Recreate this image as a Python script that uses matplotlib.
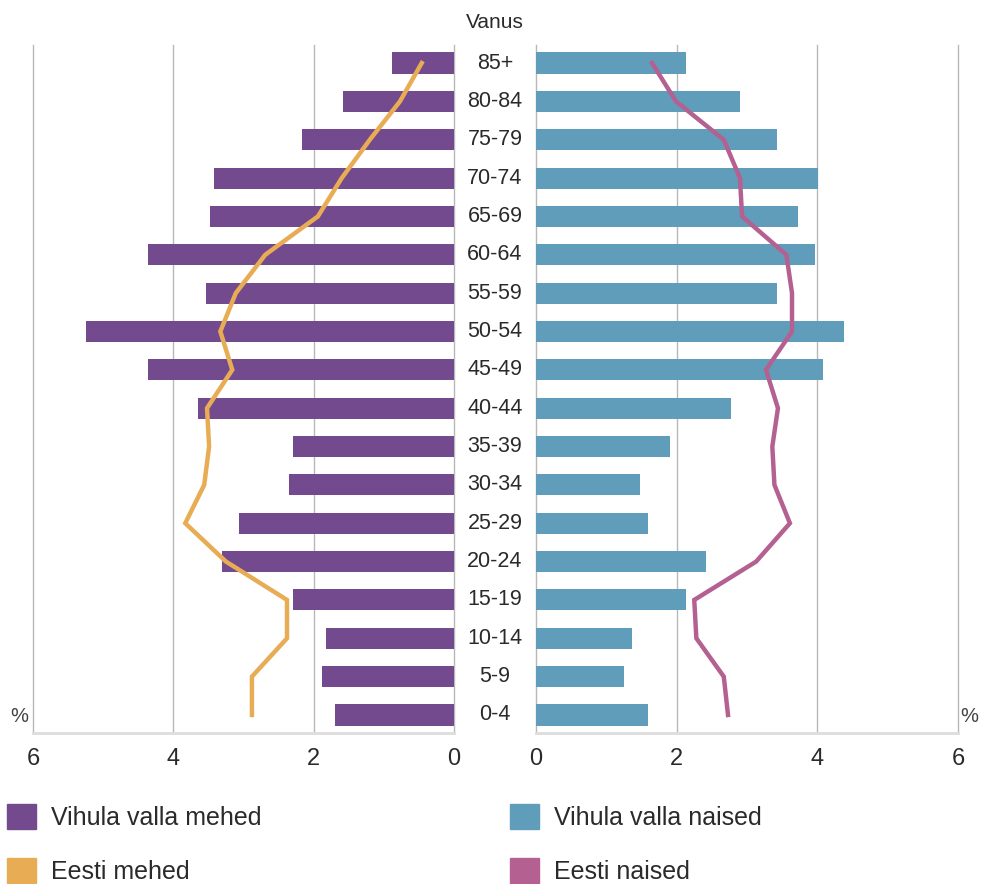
import matplotlib as mpl
mpl.use("Agg")
import matplotlib.pyplot as plt
from matplotlib.patches import Patch
from matplotlib.transforms import blended_transform_factory

plt.rcParams["font.family"] = ["Liberation Sans", "DejaVu Sans"]

# DATA (percent of population)
ages = ["0-4", "5-9", "10-14", "15-19", "20-24", "25-29", "30-34", "35-39", "40-44",
        "45-49", "50-54", "55-59", "60-64", "65-69", "70-74", "75-79", "80-84", "85+"]
vihula_mehed = [1.70, 1.88, 1.82, 2.29, 3.30, 3.06, 2.35, 2.29, 3.65,
                4.36, 5.24, 3.53, 4.36, 3.48, 3.42, 2.17, 1.58, 0.88]
vihula_naised = [1.59, 1.25, 1.37, 2.13, 2.42, 1.59, 1.48, 1.91, 2.77,
                 4.08, 4.38, 3.43, 3.97, 3.73, 4.01, 3.43, 2.90, 2.13]
eesti_mehed = [2.88, 2.88, 2.38, 2.38, 3.25, 3.83, 3.56, 3.49, 3.52,
               3.16, 3.33, 3.11, 2.69, 1.94, 1.60, 1.20, 0.77, 0.46]
eesti_naised = [2.73, 2.67, 2.28, 2.25, 3.13, 3.61, 3.39, 3.36, 3.44,
                3.27, 3.64, 3.64, 3.56, 2.93, 2.90, 2.67, 1.99, 1.65]
xticks = [0, 2, 4, 6]

C_PURPLE = "#734a8e"
C_BLUE = "#5f9dba"
C_ORANGE = "#e8ac55"
C_PINK = "#b46192"
C_GRID = "#b8b8b8"
C_TEXT = "#2a2a2a"

W, H = 983, 884
fig = plt.figure(figsize=(W / 100, H / 100), dpi=100)

# PANEL POSITIONS IN PIXELS
top, bottom = 45, 733
axL = fig.add_axes([33 / W, (H - bottom) / H, 421 / W, (bottom - top) / H])
axR = fig.add_axes([536 / W, (H - bottom) / H, 422 / W, (bottom - top) / H])

y = list(range(len(ages)))
axL.barh(y, vihula_mehed, height=0.55, color=C_PURPLE, zorder=2)
axR.barh(y, vihula_naised, height=0.55, color=C_BLUE, zorder=2)
axL.plot(eesti_mehed, y, color=C_ORANGE, lw=3.2, zorder=3, solid_joinstyle="miter")
axR.plot(eesti_naised, y, color=C_PINK, lw=3.2, zorder=3, solid_joinstyle="miter")

for ax in (axL, axR):
    ax.set_xlim(0, 6)
    ax.set_ylim(-0.47, len(ages) - 1 + 0.47)
    ax.set_xticks(xticks)
    ax.set_xticklabels([str(t) for t in xticks])
    ax.set_yticks([])
    ax.tick_params(axis="x", length=0, pad=11, labelsize=17, labelcolor=C_TEXT)
    for s in ("top", "left", "right"):
        ax.spines[s].set_visible(False)
    ax.spines["bottom"].set_color("#dddddd")
    ax.spines["bottom"].set_linewidth(2)
    ax.grid(axis="x", color=C_GRID, lw=1, zorder=0)
    ax.set_axisbelow(True)
    for gl in ax.get_xgridlines():
        gl.set_clip_on(False)
axL.invert_xaxis()

# AGE LABELS BETWEEN PANELS
tr = blended_transform_factory(fig.transFigure, axL.transData)
for i, a in enumerate(ages):
    fig.text(495 / W, i, a, transform=tr, ha="center", va="center",
             fontsize=15.5, color=C_TEXT)
fig.text(495 / W, 1 - 23 / H, "Vanus", ha="center", va="center", fontsize=15, color=C_TEXT)
fig.text(19 / W, 1 - 716 / H, "%", ha="center", va="center", fontsize=14.5, color="#444444")
fig.text(969 / W, 1 - 716 / H, "%", ha="center", va="center", fontsize=14.5, color="#444444")

# LEGENDS
leg_kw = dict(frameon=False, fontsize=18, handlelength=1.16, handleheight=1.16,
              handletextpad=0.6, labelspacing=1.12, borderaxespad=0, borderpad=0,
              labelcolor=C_TEXT)
fig.legend(handles=[Patch(color=C_PURPLE, label="Vihula valla mehed"),
                    Patch(color=C_ORANGE, label="Eesti mehed")],
           loc="upper left", bbox_to_anchor=(7 / W, 1 - 804 / H), **leg_kw)
fig.legend(handles=[Patch(color=C_BLUE, label="Vihula valla naised"),
                    Patch(color=C_PINK, label="Eesti naised")],
           loc="upper left", bbox_to_anchor=(510 / W, 1 - 804 / H), **leg_kw)

fig.savefig("out.png", dpi=100, facecolor="white")
